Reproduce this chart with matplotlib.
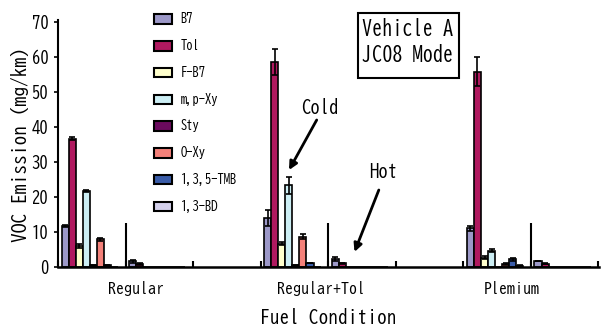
import matplotlib
matplotlib.use("Agg")
import matplotlib.pyplot as plt
from matplotlib.patches import Rectangle, Patch
import numpy as np

plt.rcParams['font.family'] = ['BIZ UDGothic', 'Ubuntu Mono', 'DejaVu Sans Mono']

compounds = ['B7', 'Tol', 'F-B7', 'm,p-Xy', 'Sty', 'O-Xy', '1,3,5-TMB', '1,3-BD']
colors = ['#9c98c8', '#b0195f', '#ffffcc', '#cceef4', '#6b0a5e', '#f4817a', '#3a5ca8', '#d4d0ec']
fuels = ['Regular', 'Regular+Tol', 'Plemium']

# mg/km, cold start then hot start
regular_cold = [11.6, 36.7, 6.0, 21.6, 0.5, 7.9, 0.5, 0.1]
regular_cold_err = [0.3, 0.5, 0.5, 0.3, 0.1, 0.4, 0.1, 0.0]
regular_hot = [1.6, 0.9, 0.1, 0.1, 0.0, 0.1, 0.1, 0.0]
regular_hot_err = [0.5, 0.2, 0.0, 0.0, 0.0, 0.0, 0.0, 0.0]

regtol_cold = [13.9, 58.6, 6.7, 23.3, 0.5, 8.7, 1.1, 0.0]
regtol_cold_err = [2.3, 3.6, 0.3, 2.4, 0.1, 0.6, 0.1, 0.0]
regtol_hot = [2.2, 1.0, 0.1, 0.1, 0.0, 0.0, 0.1, 0.0]
regtol_hot_err = [0.6, 0.2, 0.0, 0.0, 0.0, 0.0, 0.0, 0.0]

plemium_cold = [11.0, 55.8, 2.7, 4.6, 0.1, 0.9, 2.2, 0.4]
plemium_cold_err = [0.6, 4.1, 0.4, 0.4, 0.0, 0.2, 0.5, 0.1]
plemium_hot = [1.7, 0.9, 0.1, 0.1, 0.0, 0.0, 0.1, 0.0]
plemium_hot_err = [0.1, 0.1, 0.0, 0.0, 0.0, 0.0, 0.0, 0.0]

cold = [regular_cold, regtol_cold, plemium_cold]
cold_err = [regular_cold_err, regtol_cold_err, plemium_cold_err]
hot = [regular_hot, regtol_hot, plemium_hot]
hot_err = [regular_hot_err, regtol_hot_err, plemium_hot_err]

fig = plt.figure(figsize=(6.07, 3.27), dpi=100)
ax = fig.add_axes([0.0956, 0.1835, 0.8912, 0.7492])

bar_w = 0.104
offset = 0.055
for g in range(3):
    for start, vals, errs in [(3 * g, cold[g], cold_err[g]), (3 * g + 1, hot[g], hot_err[g])]:
        for i in range(8):
            x = start + offset + i * bar_w
            ax.bar(x, vals[i], width=bar_w, align='edge', color=colors[i],
                   edgecolor='black', linewidth=1.2, zorder=2)
            if errs[i] > 0:
                ax.errorbar(x + bar_w / 2, vals[i], yerr=errs[i], fmt='none',
                            ecolor='black', elinewidth=1.2, capsize=2.5, capthick=1.2, zorder=3)
    # cold / hot divider
    ax.vlines(3 * g + 1, 0, 12.6, color='black', linewidth=1.5, zorder=3)

ax.set_xlim(0, 8.01)
ax.set_ylim(0, 70)
ax.set_yticks(np.arange(0, 71, 10))
ax.tick_params(axis='y', direction='out', length=3, width=1.2, labelsize=12, pad=4)
ax.set_xticks([1.15, 3.9, 6.72])
ax.set_xticklabels(fuels)
ax.set_xticks(np.arange(0, 9), minor=True)
ax.tick_params(axis='x', which='major', length=0, labelsize=11.5, pad=10)
ax.tick_params(axis='x', which='minor', direction='in', length=4, width=1.5)
for s in ['top', 'right']:
    ax.spines[s].set_visible(False)
ax.spines['left'].set_linewidth(1.5)
ax.spines['bottom'].set_linewidth(1.8)
ax.spines['left'].set_bounds(0, 70.5)

ax.set_xlabel('Fuel Condition', fontsize=14, labelpad=9)
ax.set_ylabel('VOC Emission (mg/km)', fontsize=14, labelpad=2)

handles = [Patch(facecolor=c, edgecolor='black', linewidth=1.5) for c in colors]
fig.legend(handles, compounds, loc='upper left', bbox_to_anchor=(0.254, 0.962),
           frameon=False, fontsize=9, handlelength=1.4, handleheight=0.8,
           handletextpad=0.7, labelspacing=1.1, borderpad=0, borderaxespad=0)

# Vehicle box
fig.patches.append(Rectangle((0.590, 0.761), 0.166, 0.199, transform=fig.transFigure,
                             facecolor='white', edgecolor='black', linewidth=1.5, zorder=5))
fig.text(0.596, 1 - 28 / 327, 'Vehicle A', fontsize=14.5, va='center', ha='left', zorder=6)
fig.text(0.596, 1 - 53 / 327, 'JC08 Mode', fontsize=14.5, va='center', ha='left', zorder=6)

arrow = dict(arrowstyle='-|>', lw=2, color='black', mutation_scale=12, shrinkA=0, shrinkB=0)
ax.text(3.88, 45.7, 'Cold', fontsize=13.5, ha='center', va='center')
ax.annotate('', xy=(3.42, 27.7), xytext=(3.83, 42), arrowprops=arrow)
ax.text(4.81, 27.4, 'Hot', fontsize=13.5, ha='center', va='center')
ax.annotate('', xy=(4.39, 4.3), xytext=(4.75, 22), arrowprops=arrow)

fig.savefig('out.png', dpi=100)
